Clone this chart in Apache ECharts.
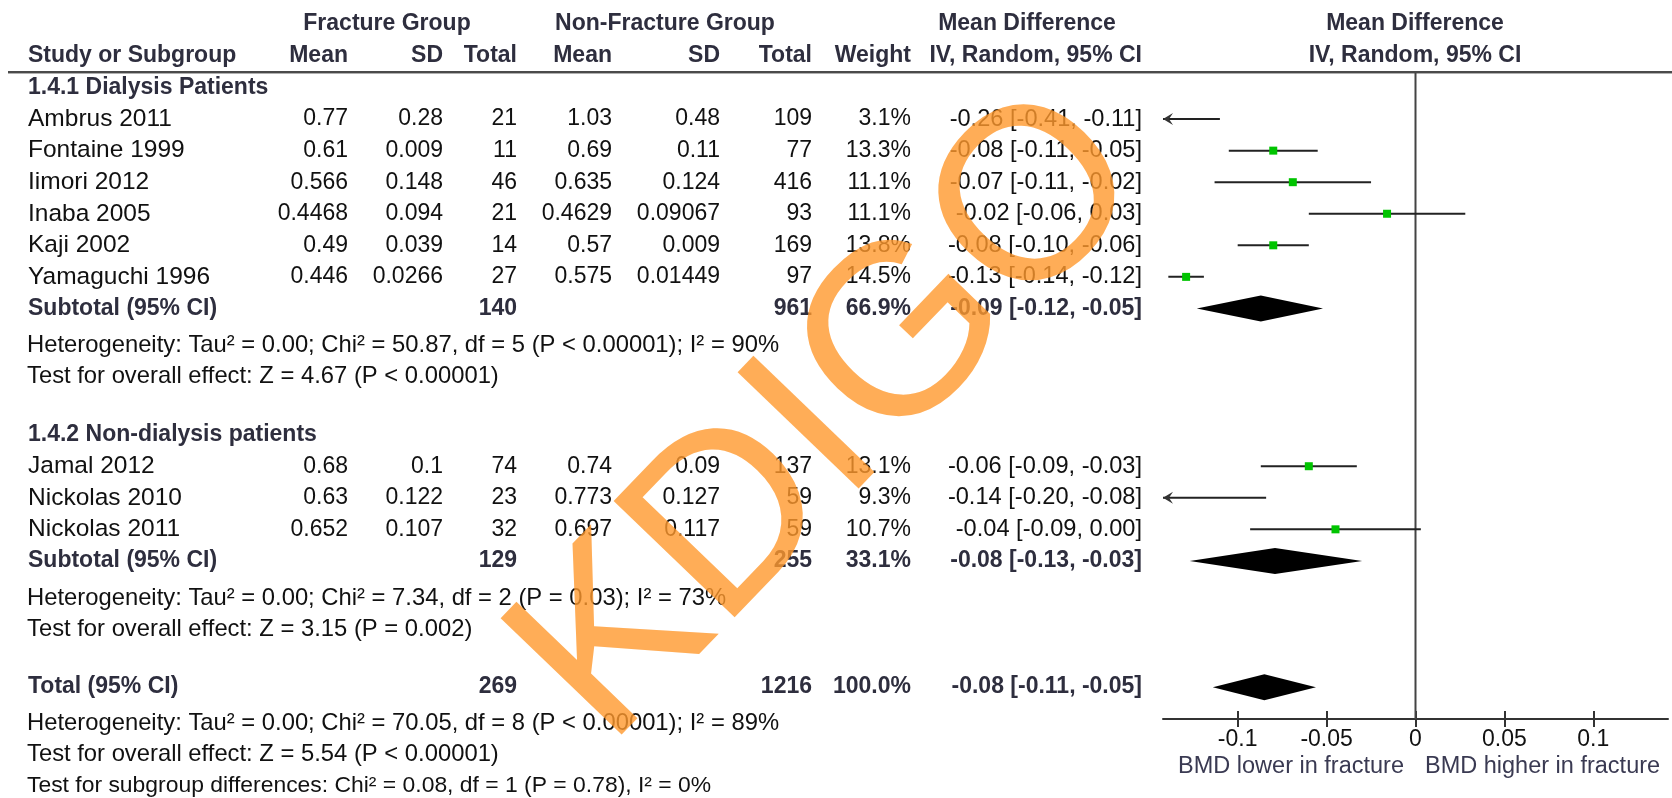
<!DOCTYPE html>
<html><head><meta charset="utf-8">
<script src="https://cdn.jsdelivr.net/npm/echarts@6/dist/echarts.min.js"></script>
<style>html,body{margin:0;padding:0;background:#fff}#c{width:1672px;height:798px}</style>
</head><body><div id="c"></div>
<script>
// ================= DATA =================
const groupTitles = ['1.4.1 Dialysis Patients', '1.4.2 Non-dialysis patients'];
const studyNames = ['Ambrus 2011','Fontaine 1999','Iimori 2012','Inaba 2005','Kaji 2002','Yamaguchi 1996','Jamal 2012','Nickolas 2010','Nickolas 2011'];
const fracMean  = ['0.77','0.61','0.566','0.4468','0.49','0.446','0.68','0.63','0.652'];
const fracSD    = ['0.28','0.009','0.148','0.094','0.039','0.0266','0.1','0.122','0.107'];
const fracTotal = [21,11,46,21,14,27,74,23,32];
const nonMean   = ['1.03','0.69','0.635','0.4629','0.57','0.575','0.74','0.773','0.697'];
const nonSD     = ['0.48','0.11','0.124','0.09067','0.009','0.01449','0.09','0.127','0.117'];
const nonTotal  = [109,77,416,93,169,97,137,59,59];
const weights   = ['3.1%','13.3%','11.1%','11.1%','13.8%','14.5%','13.1%','9.3%','10.7%'];
const ciText    = ['-0.26 [-0.41, -0.11]','-0.08 [-0.11, -0.05]','-0.07 [-0.11, -0.02]','-0.02 [-0.06, 0.03]','-0.08 [-0.10, -0.06]','-0.13 [-0.14, -0.12]','-0.06 [-0.09, -0.03]','-0.14 [-0.20, -0.08]','-0.04 [-0.09, 0.00]'];
const mdEstimate = [-0.260,-0.080,-0.069,-0.016,-0.080,-0.129,-0.060,-0.143,-0.045];
const mdLower    = [-0.410,-0.105,-0.113,-0.060,-0.100,-0.139,-0.087,-0.202,-0.093];
const mdUpper    = [-0.110,-0.055,-0.025, 0.028,-0.060,-0.119,-0.033,-0.084, 0.003];

const subtotalLabel     = 'Subtotal (95% CI)';
const subtotalFracTotal = [140,129];
const subtotalNonTotal  = [961,255];
const subtotalWeight    = ['66.9%','33.1%'];
const subtotalCiText    = ['-0.09 [-0.12, -0.05]','-0.08 [-0.13, -0.03]'];
const subtotalEstimate  = [-0.087,-0.079];
const subtotalLower     = [-0.123,-0.127];
const subtotalUpper     = [-0.052,-0.030];
const subtotalHeterogeneity = ['Heterogeneity: Tau\u00b2 = 0.00; Chi\u00b2 = 50.87, df = 5 (P < 0.00001); I\u00b2 = 90%',
                               'Heterogeneity: Tau\u00b2 = 0.00; Chi\u00b2 = 7.34, df = 2 (P = 0.03); I\u00b2 = 73%'];
const subtotalOverall = ['Test for overall effect: Z = 4.67 (P < 0.00001)','Test for overall effect: Z = 3.15 (P = 0.002)'];

const totalLabel = 'Total (95% CI)';
const totalFracTotal = [269];
const totalNonTotal  = [1216];
const totalWeight    = ['100.0%'];
const totalCiText    = ['-0.08 [-0.11, -0.05]'];
const totalEstimate  = [-0.085];
const totalLower     = [-0.114];
const totalUpper     = [-0.056];
const totalNotes = ['Heterogeneity: Tau\u00b2 = 0.00; Chi\u00b2 = 70.05, df = 8 (P < 0.00001); I\u00b2 = 89%',
                    'Test for overall effect: Z = 5.54 (P < 0.00001)',
                    'Test for subgroup differences: Chi\u00b2 = 0.08, df = 1 (P = 0.78), I\u00b2 = 0%'];

const headerGroups = ['Fracture Group','Non-Fracture Group','Mean Difference','Mean Difference'];
const headerCols = ['Study or Subgroup','Mean','SD','Total','Mean','SD','Total','Weight','IV, Random, 95% CI','IV, Random, 95% CI'];
const xTickValues = [-0.1,-0.05,0,0.05,0.1];
const xAxisNotes = ['BMD lower in fracture','BMD higher in fracture'];
const watermark = 'KDIGO';

// ================= LAYOUT / STYLE =================
const FONT = '"Liberation Sans", Arial, sans-serif';
const NAME = 24.5, NUM = 23, CI = 23.6, NOTE = 23.8, NOTE_SMALL = 22.9, BOLD = 23;
const L = {
  xMin:-0.142, xMax:0.142, yMin:-0.46, yMax:20.01,
  grid:{left:1163, top:73, width:505, height:646},
  col:{name:28, fMean:348, fSD:443, fN:517, nMean:612, nSD:720, nN:812, weight:911, ci:1142},
  studyRows:[1,2,3,4,5,6,12,13,14],
  groupRows:[0,11], subRows:[7,15], hetRows:[8.18,16.18], testRows:[9.16,17.16],
  totalRow:19, totalNoteRows:[20.16,21.14,22.12],
  diamondHalf:13, markerSize:8
};
const C_TXT = '#111', C_BOLD = '#2e2e3e';

// ================= BUILD TABLE ITEMS =================
const tableItems = [];
function cell(x, t, a, kind){ return {x, t:String(t), a, kind}; }
groupTitles.forEach((g,i)=>tableItems.push({row:L.groupRows[i], cells:[cell(L.col.name,g,'left','bold')]}));
studyNames.forEach((n,i)=>tableItems.push({row:L.studyRows[i], cells:[
  cell(L.col.name,n,'left','name'), cell(L.col.fMean,fracMean[i],'right'), cell(L.col.fSD,fracSD[i],'right'),
  cell(L.col.fN,fracTotal[i],'right'), cell(L.col.nMean,nonMean[i],'right'), cell(L.col.nSD,nonSD[i],'right'),
  cell(L.col.nN,nonTotal[i],'right'), cell(L.col.weight,weights[i],'right'), cell(L.col.ci,ciText[i],'right','ci')]}));
subtotalFracTotal.forEach((v,i)=>{
  tableItems.push({row:L.subRows[i], cells:[cell(L.col.name,subtotalLabel,'left','bold'), cell(L.col.fN,v,'right','bold'),
    cell(L.col.nN,subtotalNonTotal[i],'right','bold'), cell(L.col.weight,subtotalWeight[i],'right','bold'), cell(L.col.ci,subtotalCiText[i],'right','bold')]});
  tableItems.push({row:L.hetRows[i], cells:[cell(L.col.name-1,subtotalHeterogeneity[i],'left','note')]});
  tableItems.push({row:L.testRows[i], cells:[cell(L.col.name-1,subtotalOverall[i],'left','note')]});
});
tableItems.push({row:L.totalRow, cells:[cell(L.col.name,totalLabel,'left','bold'), cell(L.col.fN,totalFracTotal[0],'right','bold'),
  cell(L.col.nN,totalNonTotal[0],'right','bold'), cell(L.col.weight,totalWeight[0],'right','bold'), cell(L.col.ci,totalCiText[0],'right','bold')]});
totalNotes.forEach((t,i)=>tableItems.push({row:L.totalNoteRows[i], cells:[cell(L.col.name-1,t,'left', i===2?'noteSmall':'note')]}));

function sizeOf(k){ return k==='bold'?BOLD:k==='name'?NAME:k==='note'?NOTE:k==='noteSmall'?NOTE_SMALL:k==='ci'?CI:NUM; }
function renderTable(params, api){
  const it = tableItems[params.dataIndex];
  const y = api.coord([0, it.row])[1];
  return {type:'group', children: it.cells.map(c=>({type:'text', x:c.x, y:y,
    style:{text:c.t, align:c.a, verticalAlign:'middle', fill:c.kind==='bold'?C_BOLD:C_TXT,
      fontSize:sizeOf(c.kind), fontWeight:c.kind==='bold'?'bold':'normal', fontFamily:FONT}}))};
}
function renderStudy(params, api){
  const md=api.value(0), row=api.value(1), lo=api.value(2), hi=api.value(3);
  const a = api.coord([Math.max(lo,L.xMin), row]);
  const b = api.coord([Math.min(hi,L.xMax), row]);
  const ch = [{type:'line', shape:{x1:a[0],y1:a[1],x2:b[0],y2:b[1]}, style:{stroke:'#222', lineWidth:2}}];
  if (lo < L.xMin) ch.push({type:'polygon', shape:{points:[[a[0],a[1]],[a[0]+10,a[1]-6],[a[0]+6,a[1]],[a[0]+10,a[1]+6]]}, style:{fill:'#333'}});
  if (md >= L.xMin && md <= L.xMax){
    const c = api.coord([md,row]), s = L.markerSize;
    ch.push({type:'rect', shape:{x:c[0]-s/2, y:c[1]-s/2, width:s, height:s}, style:{fill:'#00c400'}});
  }
  return {type:'group', children:ch};
}
function renderDiamond(params, api){
  const md=api.value(0), row=api.value(1), lo=api.value(2), hi=api.value(3);
  const a=api.coord([lo,row]), m=api.coord([md,row]), b=api.coord([hi,row]), h=L.diamondHalf;
  return {type:'polygon', shape:{points:[a,[m[0],m[1]-h],b,[m[0],m[1]+h]]}, style:{fill:'#000'}};
}

const studyData = studyNames.map((n,i)=>[mdEstimate[i], L.studyRows[i], mdLower[i], mdUpper[i]]);
const diamondData = subtotalEstimate.map((v,i)=>[v, L.subRows[i], subtotalLower[i], subtotalUpper[i]])
  .concat([[totalEstimate[0], L.totalRow, totalLower[0], totalUpper[0]]]);

// header graphics
const hdrY1 = 24, hdrY2 = 56;
function gtext(x,y,t,align,bold,color,size){
  return {type:'text', x, y, z:10, style:{text:t, align, verticalAlign:'middle', fill:color||C_BOLD,
    fontSize:size||(bold?BOLD:NAME), fontWeight:bold?'bold':'normal', fontFamily:FONT}};
}
const graphics = [
  gtext(387,hdrY1,headerGroups[0],'center',true),
  gtext(665,hdrY1,headerGroups[1],'center',true),
  gtext(1027,hdrY1,headerGroups[2],'center',true),
  gtext(1415,hdrY1,headerGroups[3],'center',true),
  gtext(L.col.name,hdrY2,headerCols[0],'left',true),
  gtext(L.col.fMean,hdrY2,headerCols[1],'right',true),
  gtext(L.col.fSD,hdrY2,headerCols[2],'right',true),
  gtext(L.col.fN,hdrY2,headerCols[3],'right',true),
  gtext(L.col.nMean,hdrY2,headerCols[4],'right',true),
  gtext(L.col.nSD,hdrY2,headerCols[5],'right',true),
  gtext(L.col.nN,hdrY2,headerCols[6],'right',true),
  gtext(L.col.weight,hdrY2,headerCols[7],'right',true),
  gtext(L.col.ci,hdrY2,headerCols[8],'right',true),
  gtext(1415,hdrY2,headerCols[9],'center',true),
  {type:'rect', shape:{x:8,y:71,width:1664,height:2}, style:{fill:'#4a4a4a'}},
  {type:'rect', shape:{x:8,y:73,width:1664,height:1}, style:{fill:'#b0b0b0'}},
  gtext(1404,767,xAxisNotes[0],'right',false,'#3a3a52',23.5),
  gtext(1425,767,xAxisNotes[1],'left',false,'#3a3a52',23.5),
  {type:'text', x:832, y:419, rotation:46.1*Math.PI/180, z:100,
   style:{text:watermark, align:'center', verticalAlign:'middle', fontSize:244, fontWeight:'normal', fontFamily:FONT,
          fill:'rgba(255,152,45,0.8)'}}
];

const gridCommon = {left:L.grid.left, top:L.grid.top, width:L.grid.width, height:L.grid.height, containLabel:false};
const chart = echarts.init(document.getElementById('c'), null, {renderer:'canvas'});
chart.setOption({
  animation:false,
  backgroundColor:'#fff',
  grid:[gridCommon, gridCommon],
  xAxis:[
    {type:'value', gridIndex:0, min:L.xMin, max:L.xMax, position:'bottom', splitLine:{show:false},
     axisLine:{show:true, onZero:false, lineStyle:{color:'#333', width:2}},
     axisTick:{show:true, customValues:xTickValues, length:8, lineStyle:{color:'#333', width:2}},
     axisLabel:{show:true, customValues:xTickValues, margin:9, fontSize:NUM, fontFamily:FONT, color:'#111',
                formatter:v=>String(v)}},
    {type:'value', gridIndex:1, min:L.xMin, max:L.xMax, position:'bottom', splitLine:{show:false},
     axisLine:{show:false, onZero:false}, axisLabel:{show:false},
     axisTick:{show:true, inside:true, customValues:xTickValues, length:8, lineStyle:{color:'#333', width:2}}}
  ],
  yAxis:[
    {type:'value', gridIndex:0, min:L.yMin, max:L.yMax, inverse:true, show:false},
    {type:'value', gridIndex:1, min:L.yMin, max:L.yMax, inverse:true, show:false}
  ],
  graphic:graphics,
  series:[
    {type:'line', silent:true, data:[[0,L.yMin],[0,L.yMax]], showSymbol:false, symbol:'none',
     lineStyle:{color:'#444', width:2}, z:1},
    {type:'custom', renderItem:renderTable, data:tableItems.map(t=>[0,t.row]), clip:false, silent:true, z:5},
    {type:'custom', renderItem:renderStudy, data:studyData, clip:false, silent:true, z:3, dimensions:['md','row','lo','hi'], encode:{x:0,y:1}},
    {type:'custom', renderItem:renderDiamond, data:diamondData, clip:false, silent:true, z:3, dimensions:['md','row','lo','hi'], encode:{x:0,y:1}}
  ]
});
</script>
</body></html>
